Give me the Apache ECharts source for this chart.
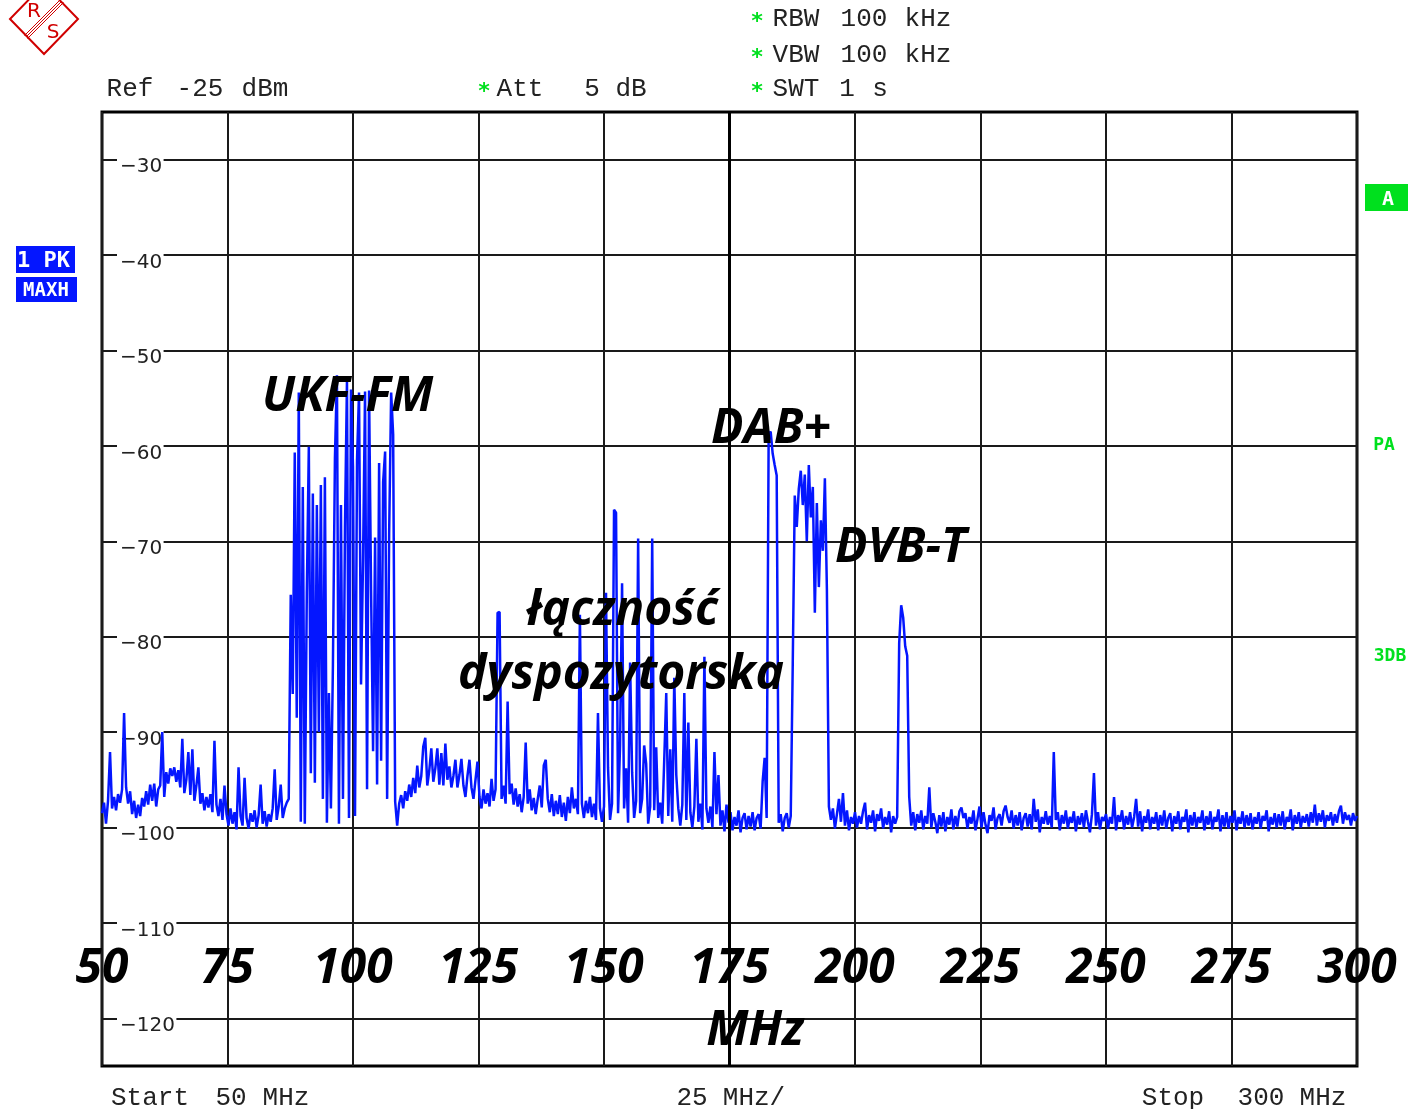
<!DOCTYPE html>
<html><head><meta charset="utf-8">
<script src="https://cdn.jsdelivr.net/npm/echarts@6/dist/echarts.min.js"></script>
<style>html,body{margin:0;padding:0;background:#fff;}#chart{width:1417px;height:1109px;}</style>
</head><body><div id="chart"></div>
<script>
// Sweep: 50 MHz to 300 MHz, 0.4 MHz per point (626 points), levels in dBm
const fStart = 50, fStep = 0.4;
const lvl050 = [-98.5,-97.4,-99.6,-97.2,-92.1,-98.0,-96.8,-98.2,-96.5,-97.4,-96.0,-88.0,-95.8,-97.5,-96.2,-98.6,-97.2,-99.0,-97.6,-98.8,-96.9,-97.8,-96.2,-97.6,-95.5];
const lvl060 = [-97.2,-95.4,-97.8,-96.0,-95.6,-90.0,-96.8,-94.2,-95.4,-93.8,-94.6,-93.7,-95.2,-94.0,-95.8,-90.7,-96.4,-95.0,-92.1,-96.6,-91.8,-97.2,-95.6,-93.7,-97.5];
const lvl070 = [-96.4,-98.2,-96.8,-97.9,-96.5,-98.4,-90.9,-97.6,-98.8,-97.0,-99.2,-95.6,-98.6,-99.8,-98.0,-99.6,-98.4,-100.2,-93.7,-98.8,-99.8,-94.8,-99.0,-100.1,-98.5];
const lvl080 = [-99.4,-98.2,-100.0,-98.7,-95.5,-99.6,-98.3,-99.9,-98.6,-99.4,-98.0,-93.9,-99.2,-97.8,-95.5,-99.0,-98.0,-97.4,-97.0,-75.6,-86.0,-60.7,-88.5,-54.4,-99.4];
const lvl090 = [-64.3,-99.6,-75.4,-60.1,-94.3,-65.0,-95.3,-66.2,-90.0,-64.1,-97.0,-63.3,-99.5,-85.9,-98.0,-83.0,-61.3,-52.6,-99.6,-66.2,-97.0,-68.5,-53.1,-99.0,-54.1];
const lvl100 = [-62.2,-98.8,-61.5,-54.4,-85.0,-72.0,-54.3,-96.0,-54.2,-75.1,-92.0,-69.6,-95.5,-61.8,-93.0,-63.8,-60.6,-97.0,-69.2,-54.4,-58.8,-97.3,-99.8,-97.5,-96.6];
const lvl110 = [-98.0,-96.2,-97.2,-95.5,-96.8,-94.8,-96.4,-93.5,-95.8,-94.6,-91.5,-90.6,-95.6,-94.0,-91.7,-95.2,-93.8,-91.7,-95.5,-92.2,-95.6,-91.2,-95.0,-93.6,-95.8];
const lvl120 = [-94.6,-92.9,-95.8,-94.5,-92.8,-95.6,-96.8,-94.6,-92.9,-95.8,-97.0,-95.0,-93.1,-96.8,-98.0,-96.0,-97.5,-96.4,-97.8,-94.9,-97.2,-96.0,-77.5,-77.4,-97.0];
const lvl130 = [-95.6,-97.5,-86.8,-96.5,-95.4,-97.6,-95.9,-97.8,-96.5,-98.4,-96.8,-91.1,-97.5,-96.0,-98.2,-96.9,-98.6,-97.0,-95.6,-97.9,-93.5,-92.9,-97.0,-98.4,-96.5];
const lvl140 = [-98.8,-97.2,-98.6,-96.6,-98.9,-97.4,-99.3,-96.8,-98.5,-95.8,-98.0,-97.0,-98.6,-77.7,-97.5,-99.0,-97.2,-98.5,-96.8,-98.9,-97.5,-99.2,-88.0,-98.0,-99.4];
const lvl150 = [-97.8,-75.4,-93.7,-99.2,-97.5,-66.7,-67.0,-98.5,-91.4,-74.4,-98.0,-93.8,-99.5,-82.7,-94.2,-99.0,-97.2,-69.7,-98.5,-97.0,-91.4,-93.3,-99.6,-97.8,-69.7];
const lvl160 = [-98.2,-91.6,-99.0,-97.4,-99.6,-92.9,-85.9,-98.8,-91.8,-99.4,-84.3,-94.5,-98.0,-99.8,-97.6,-85.9,-99.2,-89.0,-98.4,-100.0,-97.8,-90.7,-99.4,-97.5,-100.2];
const lvl170 = [-82.1,-98.0,-99.5,-97.8,-100.0,-92.1,-98.6,-94.5,-99.8,-98.2,-100.4,-97.6,-99.5,-98.4,-100.3,-98.9,-99.8,-98.2,-100.5,-99.0,-98.5,-100.2,-98.8,-99.9,-98.4];
const lvl180 = [-100.3,-99.0,-98.6,-100.1,-95.2,-92.7,-99.0,-58.8,-58.5,-60.8,-62.0,-63.1,-99.5,-98.6,-100.4,-99.0,-98.5,-100.0,-98.8,-82.8,-65.2,-68.5,-64.5,-62.6,-66.2];
const lvl190 = [-63.0,-70.0,-62.0,-67.5,-64.3,-77.5,-66.0,-74.8,-67.8,-71.0,-63.4,-75.0,-97.8,-99.2,-98.0,-100.1,-98.6,-97.0,-99.4,-96.4,-99.8,-98.2,-100.3,-98.9,-99.6];
const lvl200 = [-98.4,-100.0,-98.8,-99.6,-98.3,-97.4,-100.2,-98.7,-99.5,-98.2,-100.4,-98.6,-99.3,-98.0,-100.1,-98.9,-99.7,-98.3,-100.5,-98.8,-99.6,-98.9,-80.7,-76.7,-78.0];
const lvl210 = [-81.0,-82.0,-96.8,-99.8,-98.4,-100.3,-98.6,-99.5,-98.2,-100.2,-98.8,-99.6,-95.8,-100.0,-98.5,-99.4,-100.6,-98.7,-99.9,-98.4,-100.4,-98.9,-99.7,-98.1,-100.2];
const lvl220 = [-98.8,-99.9,-98.3,-97.9,-99.0,-98.5,-100.1,-98.9,-99.6,-98.2,-100.3,-99.1,-97.8,-100.0,-98.4,-99.7,-100.6,-98.7,-99.3,-97.9,-100.2,-99.0,-98.6,-99.8,-98.3];
const lvl230 = [-97.7,-98.9,-99.5,-98.2,-100.1,-98.7,-99.8,-98.4,-100.3,-99.0,-98.5,-99.9,-98.6,-100.2,-97.0,-99.4,-98.1,-100.5,-98.9,-99.6,-98.3,-99.7,-98.8,-100.0,-92.1];
const lvl240 = [-99.2,-98.4,-100.3,-98.7,-99.6,-98.2,-100.1,-98.9,-99.5,-98.3,-100.4,-98.8,-99.7,-98.5,-100.0,-98.2,-99.4,-100.5,-98.6,-94.3,-99.8,-98.4,-100.2,-98.9,-99.3];
const lvl250 = [-98.6,-100.1,-98.9,-99.6,-96.8,-100.3,-98.7,-99.4,-98.2,-100.2,-98.8,-99.7,-98.4,-100.0,-98.9,-97.0,-99.9,-98.3,-100.4,-98.8,-99.5,-98.1,-100.2,-98.9,-99.6];
const lvl260 = [-98.4,-100.3,-98.7,-99.8,-98.2,-100.1,-99.0,-98.5,-100.4,-98.8,-99.6,-98.3,-100.2,-98.9,-99.4,-98.1,-100.5,-98.7,-99.8,-98.4,-100.0,-98.9,-99.5,-98.2,-100.3];
const lvl270 = [-98.8,-99.7,-98.3,-100.2,-98.9,-99.4,-98.1,-100.4,-98.7,-99.9,-98.4,-100.1,-98.8,-99.5,-98.2,-100.3,-98.9,-99.6,-98.3,-100.0,-98.7,-99.8,-98.5,-100.2,-98.9];
const lvl280 = [-99.6,-98.4,-100.1,-98.8,-99.3,-98.2,-100.4,-98.9,-99.7,-98.5,-100.0,-98.6,-99.8,-98.3,-100.2,-98.9,-99.4,-98.1,-100.3,-98.7,-99.6,-98.4,-100.0,-98.8,-99.5];
const lvl290 = [-98.6,-99.9,-98.4,-99.5,-97.6,-99.8,-98.5,-99.4,-98.2,-100.0,-98.7,-99.3,-98.4,-99.8,-98.6,-99.5,-98.3,-97.7,-99.6,-98.4,-99.2,-98.7,-99.8,-98.5,-99.3];
const lvlEnd = [-98.8];

const freqTicks = [50, 75, 100, 125, 150, 175, 200, 225, 250, 275, 300];
const levelTicks = [-120, -110, -100, -90, -80, -70, -60, -50, -40, -30];
const annotations = ['UKF-FM', 'DAB+', 'DVB-T', 'łączność', 'dyspozytorska'];

const level = [].concat(lvl050, lvl060, lvl070, lvl080, lvl090, lvl100, lvl110, lvl120, lvl130, lvl140,
  lvl150, lvl160, lvl170, lvl180, lvl190, lvl200, lvl210, lvl220, lvl230, lvl240, lvl250, lvl260,
  lvl270, lvl280, lvl290, lvlEnd);
const trace = level.map((v, i) => [Math.round((fStart + i * fStep) * 10) / 10, v]);

const MONO = '"Liberation Mono", "DejaVu Sans Mono", monospace';
const BIG = 'italic bold 48px "Open Sans"';
const GREEN = '#00e01e';
const BLUE = '#0416ff';

function txt(x, y, text, font, fill, align, z) {
  return { type: 'text', x: x, y: y, z: z == null ? 50 : z,
    style: { text: text, font: font, fill: fill || '#222', align: align || 'center', verticalAlign: 'middle' } };
}
const hdr = '26px ' + MONO;
const graphics = [
  // R&S logo
  { type: 'polygon', z: 50, shape: { points: [[10, 19], [44, 54], [78, 19], [44, -16]] },
    style: { fill: 'none', stroke: '#d00000', lineWidth: 2 } },
  { type: 'line', z: 50, shape: { x1: 24.5, y1: 35.5, x2: 60.5, y2: -0.5 }, style: { stroke: '#d00000', lineWidth: 1 } },
  { type: 'line', z: 50, shape: { x1: 26, y1: 37, x2: 62, y2: 1 }, style: { stroke: '#d00000', lineWidth: 1 } },
  { type: 'line', z: 50, shape: { x1: 27.5, y1: 38.5, x2: 63.5, y2: 2.5 }, style: { stroke: '#d00000', lineWidth: 1 } },
  txt(34, 12, 'R', '20px "DejaVu Sans"', '#d00000'),
  txt(53, 33, 'S', '20px "DejaVu Sans"', '#d00000'),
  // header
  txt(130, 89, 'Ref', hdr), txt(200, 89, '-25', hdr), txt(265, 89, 'dBm', hdr),
  txt(520, 89, 'Att', hdr), txt(592, 89, '5', hdr), txt(631, 89, 'dB', hdr),
  txt(796, 19, 'RBW', hdr), txt(864, 19, '100', hdr), txt(928, 19, 'kHz', hdr),
  txt(796, 55, 'VBW', hdr), txt(864, 55, '100', hdr), txt(928, 55, 'kHz', hdr),
  txt(796, 89, 'SWT', hdr), txt(847, 89, '1', hdr), txt(880, 89, 's', hdr),
  txt(484, 92, '*', 'bold 22px "DejaVu Sans Mono"', GREEN),
  txt(757, 22, '*', 'bold 22px "DejaVu Sans Mono"', GREEN),
  txt(757, 58, '*', 'bold 22px "DejaVu Sans Mono"', GREEN),
  txt(757, 92, '*', 'bold 22px "DejaVu Sans Mono"', GREEN),
  // footer
  txt(150, 1098, 'Start', hdr), txt(231, 1098, '50', hdr), txt(286, 1098, 'MHz', hdr),
  txt(692, 1098, '25', hdr), txt(754, 1098, 'MHz/', hdr),
  txt(1173, 1098, 'Stop', hdr), txt(1261, 1098, '300', hdr), txt(1323, 1098, 'MHz', hdr),
  // left trace boxes
  { type: 'rect', z: 50, shape: { x: 16, y: 246, width: 59, height: 27 }, style: { fill: BLUE } },
  { type: 'rect', z: 50, shape: { x: 16, y: 277, width: 61, height: 25 }, style: { fill: BLUE } },
  txt(17, 261, '1 PK', 'bold 22px "DejaVu Sans Mono"', '#fff', 'left'),
  txt(46, 291, 'MAXH', 'bold 19px "DejaVu Sans Mono"', '#fff'),
  // right side markers
  { type: 'rect', z: 50, shape: { x: 1365, y: 184, width: 43, height: 27 }, style: { fill: GREEN } },
  txt(1388, 200, 'A', 'bold 20px "DejaVu Sans Mono"', '#fff'),
  txt(1384, 445, 'PA', 'bold 18px "DejaVu Sans Mono"', GREEN),
  txt(1390, 656, '3DB', 'bold 18px "DejaVu Sans Mono"', GREEN),
  // annotations
  txt(262, 397, annotations[0], BIG, '#000', 'left'),
  txt(711, 429, annotations[1], BIG, '#000', 'left'),
  txt(835, 548, annotations[2], BIG, '#000', 'left'),
  txt(622, 611, annotations[3], BIG, '#000'),
  txt(621, 675, annotations[4], BIG, '#000'),
  txt(755, 1031, 'MHz', BIG, '#000')
];

const chart = echarts.init(document.getElementById('chart'));
chart.setOption({
  animation: false,
  backgroundColor: '#fff',
  grid: { left: 102, top: 112, width: 1255, height: 954, show: true, borderColor: '#000', borderWidth: 3 },
  xAxis: {
    type: 'value', min: freqTicks[0], max: freqTicks[freqTicks.length - 1], interval: 25,
    axisLine: { show: false }, axisTick: { show: false },
    splitLine: { show: true, lineStyle: { color: '#1a1a1a', width: 2 } },
    axisLabel: { inside: true, margin: 97, verticalAlign: 'middle', align: 'center',
      showMinLabel: true, showMaxLabel: true, hideOverlap: false,
      color: '#000', fontFamily: 'Open Sans', fontStyle: 'italic', fontWeight: 'bold', fontSize: 48 }
  },
  yAxis: {
    type: 'value', min: -125, max: -25,
    axisLine: { show: false },
    axisTick: { show: false, customValues: levelTicks },
    splitLine: { show: true, lineStyle: { color: '#1a1a1a', width: 2 } },
    axisLabel: { show: false }
  },
  series: [{
    type: 'line', data: trace, showSymbol: false, symbol: 'none', z: 3,
    lineStyle: { color: BLUE, width: 2.5 },
    markLine: { silent: true, symbol: 'none', label: { show: false },
      lineStyle: { color: '#000', width: 3, type: 'solid' }, data: [{ xAxis: 175 }] }
  }],
  graphic: graphics
});

// y tick labels drawn inside the frame, positioned through the axis scale
const yLabelEls = [];
levelTicks.forEach(v => {
  const py = chart.convertToPixel({ yAxisIndex: 0 }, v);
  const label = '\u2212' + Math.abs(v);
  const w = 21 + 12.8 * (label.length - 1);
  yLabelEls.push({ type: 'rect', z: 1, shape: { x: 117, y: py - 3, width: w, height: 6 }, style: { fill: '#fff' } });
  yLabelEls.push(txt(120, py + 7.5, label, '20px "DejaVu Sans"', '#222', 'left', 1));
});
chart.setOption({ graphic: graphics.concat(yLabelEls) });
</script></body></html>
